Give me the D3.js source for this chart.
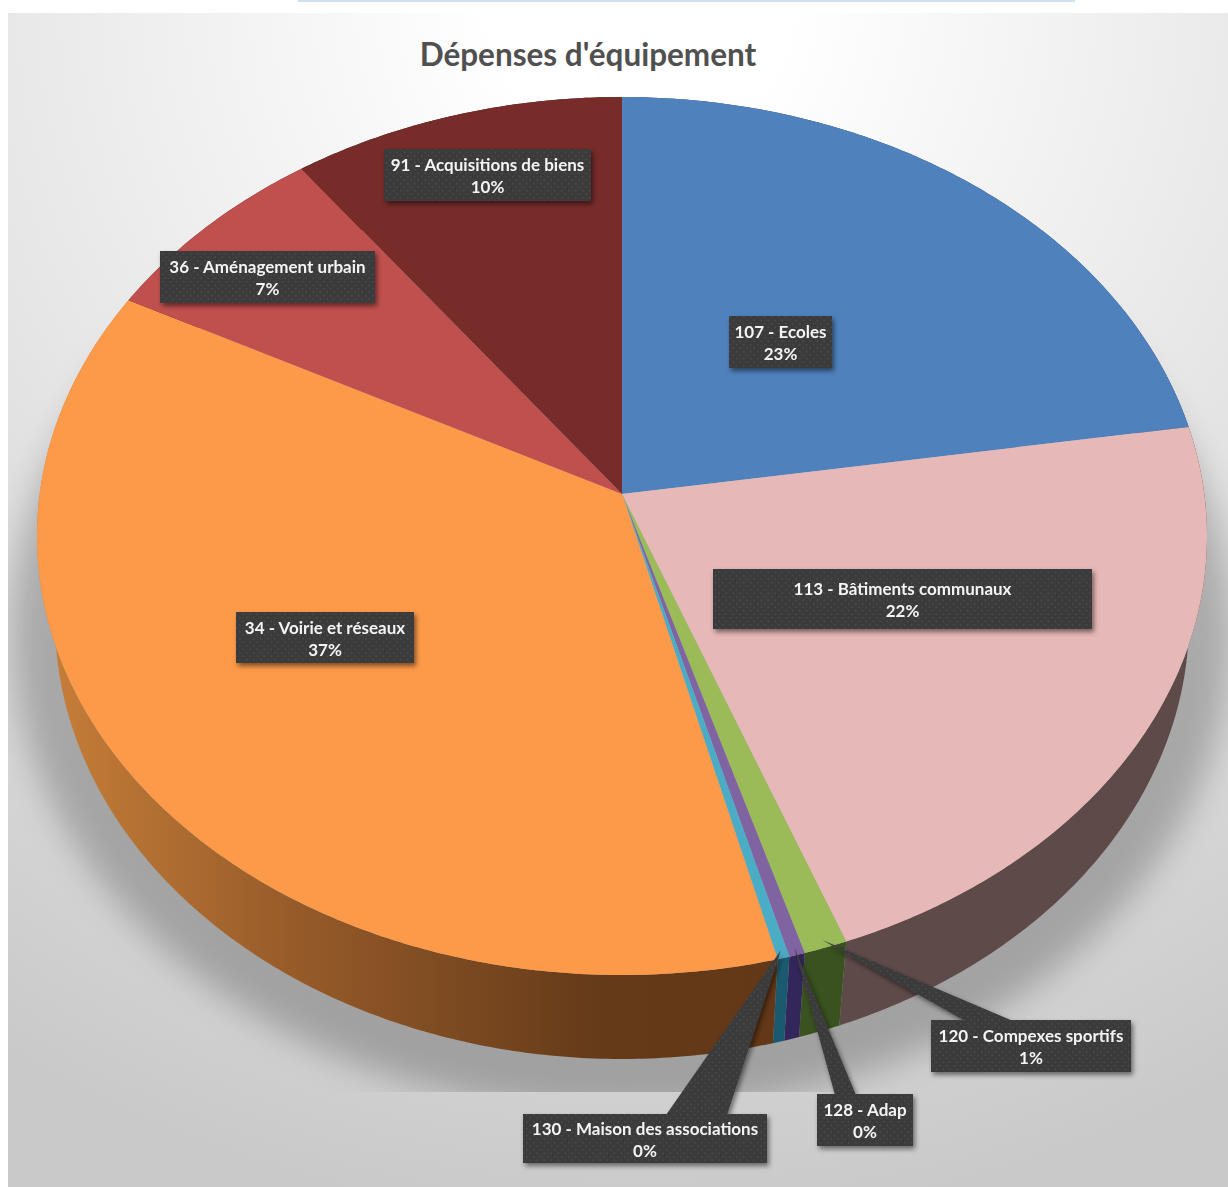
<!doctype html>
<html lang="fr">
<head>
<meta charset="utf-8">
<title>Dépenses d'équipement</title>
<style>
    html, body { margin: 0; padding: 0; background: #fff; }
    svg { display: block; }
    text { font-family: Lato, "Open Sans", sans-serif; }
</style>
</head>
<body>
<svg id="chart" width="1228" height="1187"></svg>
<script src="https://cdn.jsdelivr.net/npm/d3@7/dist/d3.min.js"></script>
<script>
    const title = "Dépenses d'équipement";
    const categories = ["107 - Ecoles", "113 - Bâtiments communaux", "120 - Compexes sportifs", "128 - Adap",
        "130 - Maison des associations", "34 - Voirie et réseaux", "36 - Aménagement urbain", "91 - Acquisitions de biens"];
    const shares = [22.5, 21.8, 1.1, 0.4, 0.3, 36.6, 7.2, 10.1];

    const topColors = ["#4f81bd", "#e6b8b7", "#9bbb59", "#8064a2", "#4bacc6", "#fd9a49", "#c0504d", "#772c2a"];
    const sideColors = ["#2a4566", "#5e4a49", "#39521f", "#33265a", "#1b5a6e", "url(#orangeSide)", "#6a2b29", "#40181a"];

    // label boxes, in page pixels: x, y, w, h
    const boxes = [[729, 316, 103, 52], [713, 569, 379, 60], [931, 1020, 200, 52], [817, 1094, 96, 52],
        [523, 1114, 244, 49], [236, 612, 178, 51], [160, 251, 215, 52], [384, 149, 207, 52]];
    // callout feet on the top edge of the box, only for the three thin slices
    const callouts = {2: [965, 1013], 3: [835, 856], 4: [666, 727]};

    const svg = d3.select("#chart");
    const defs = svg.append("defs");

    const bg = defs.append("radialGradient").attr("id", "bg").attr("gradientUnits", "userSpaceOnUse")
        .attr("cx", 640).attr("cy", 0).attr("r", 1230);
    bg.append("stop").attr("offset", "0.12").attr("stop-color", "#ffffff");
    bg.append("stop").attr("offset", "0.55").attr("stop-color", "#e6e6e6");
    bg.append("stop").attr("offset", "1").attr("stop-color", "#c9c9c9");

    const side = defs.append("linearGradient").attr("id", "orangeSide").attr("gradientUnits", "userSpaceOnUse")
        .attr("x1", 40).attr("x2", 790).attr("y1", 0).attr("y2", 0);
    side.append("stop").attr("offset", "0").attr("stop-color", "#c87f39");
    side.append("stop").attr("offset", "0.35").attr("stop-color", "#955a29");
    side.append("stop").attr("offset", "0.75").attr("stop-color", "#643a19");
    side.append("stop").attr("offset", "1").attr("stop-color", "#633818");

    const dots = defs.append("pattern").attr("id", "dots").attr("patternUnits", "userSpaceOnUse")
        .attr("width", 7).attr("height", 7);
    dots.append("rect").attr("width", 7).attr("height", 7).attr("fill", "#3b3b3b");
    dots.append("rect").attr("x", 1).attr("y", 1).attr("width", 1.5).attr("height", 1.5).attr("fill", "#4b4b4b");
    dots.append("rect").attr("x", 4.5).attr("y", 4.5).attr("width", 1.5).attr("height", 1.5).attr("fill", "#4b4b4b");

    defs.append("filter").attr("id", "blur").attr("x", "-20%").attr("y", "-20%").attr("width", "140%").attr("height", "140%")
        .append("feGaussianBlur").attr("stdDeviation", 17);
    defs.append("filter").attr("id", "boxShadow").attr("x", "-20%").attr("y", "-20%").attr("width", "140%").attr("height", "140%")
        .append("feDropShadow").attr("dx", 2).attr("dy", 3).attr("stdDeviation", 2.5).attr("flood-color", "#000").attr("flood-opacity", 0.5);
    defs.append("clipPath").attr("id", "plot").append("rect")
        .attr("x", 8).attr("y", 13).attr("width", 1220).attr("height", 1079);

    // background panel, the pale bar over it is a bit of the page behind
    svg.append("rect").attr("x", 298).attr("y", 0).attr("width", 777).attr("height", 2).attr("fill", "#cfe0f2");
    svg.append("rect").attr("x", 8).attr("y", 13).attr("width", 1220).attr("height", 1174).attr("fill", "url(#bg)");

    // the pie is a tilted disc: top rim and bottom rim are two ellipses
    const topX = d3.scaleLinear().domain([-1, 1]).range([37, 1207]);
    const topY = d3.scaleLinear().domain([-1, 1]).range([975, 97]);
    const rimX = d3.scaleLinear().domain([-1, 1]).range([55, 1189]);
    const rimY = d3.scaleLinear().domain([-1, 1]).range([1059, 181]);
    const tilt = 0.0957; // how far the centre of the pie sits above the centre of the ellipse

    // perspective: keeps the unit circle on itself and moves the centre up by tilt
    function project(angle, r) {
        const x = r * Math.sin(angle), y = r * Math.cos(angle);
        const k = 1 + tilt * y;
        return [x * Math.sqrt(1 - tilt * tilt) / k, (y + tilt) / k];
    }
    const onTop = (angle, r) => { const p = project(angle, r); return [topX(p[0]), topY(p[1])]; };
    const onRim = (angle) => { const p = project(angle, 1); return [rimX(p[0]), rimY(p[1])]; };

    const pie = d3.pie().sort(null).value(d => d);
    const slices = pie(shares);
    const line = d3.line();
    const steps = d => {
        const n = Math.max(2, Math.ceil((d.endAngle - d.startAngle) / 0.01));
        return d3.range(n + 1).map(i => d.startAngle + (d.endAngle - d.startAngle) * i / n);
    };

    svg.append("g").attr("clip-path", "url(#plot)")
        .append("ellipse").attr("cx", 622).attr("cy", 630).attr("rx", 610).attr("ry", 482)
        .attr("fill", "#000").attr("fill-opacity", 0.23).attr("filter", "url(#blur)");

    svg.append("g").selectAll("path").data(slices).join("path")
        .attr("d", d => {
            const a = steps(d);
            return line(a.map(t => onTop(t, 1)).concat(a.slice().reverse().map(onRim))) + "Z";
        })
        .attr("fill", (d, i) => sideColors[i]);

    svg.append("g").selectAll("path").data(slices).join("path")
        .attr("d", d => line([onTop(0, 0)].concat(steps(d).map(t => onTop(t, 1)))) + "Z")
        .attr("fill", (d, i) => topColors[i]);

    svg.append("text").attr("x", 588).attr("y", 66).attr("text-anchor", "middle")
        .attr("font-size", 31.5).attr("font-weight", 700).attr("fill", "#505050").text(title);

    const labels = svg.append("g").selectAll("g").data(slices).join("g").attr("filter", "url(#boxShadow)");

    labels.filter((d, i) => callouts[i]).append("path")
        .attr("d", d => {
            const i = d.index, b = boxes[i], foot = callouts[i];
            return line([onTop((d.startAngle + d.endAngle) / 2, 0.985), [foot[1], b[1] + 1], [foot[0], b[1] + 1]]) + "Z";
        })
        .attr("fill", "url(#dots)");

    labels.append("rect")
        .attr("x", d => boxes[d.index][0]).attr("y", d => boxes[d.index][1])
        .attr("width", d => boxes[d.index][2]).attr("height", d => boxes[d.index][3])
        .attr("fill", "url(#dots)");

    const text = labels.append("text").attr("text-anchor", "middle").attr("fill", "#f4f4f4")
        .attr("font-size", 17).attr("font-weight", 700)
        .attr("x", d => boxes[d.index][0] + boxes[d.index][2] / 2)
        .attr("y", d => boxes[d.index][1] + boxes[d.index][3] / 2);
    text.append("tspan").attr("x", function () { return this.parentNode.getAttribute("x"); }).attr("dy", -4)
        .text(d => categories[d.index]);
    text.append("tspan").attr("x", function () { return this.parentNode.getAttribute("x"); }).attr("dy", 22)
        .text(d => Math.round(d.data) + "%");
</script>
</body>
</html>
